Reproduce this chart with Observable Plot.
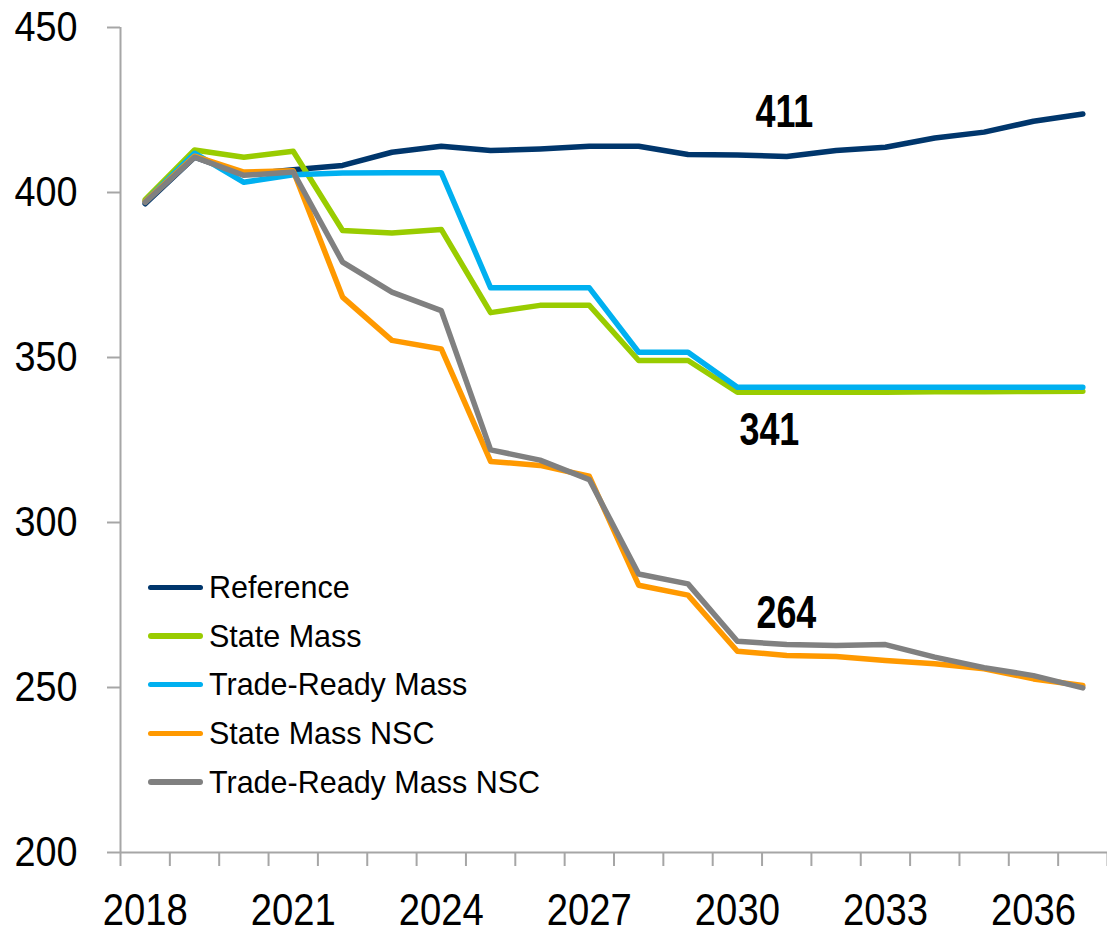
<!DOCTYPE html>
<html>
<head>
<meta charset="utf-8">
<script src="https://cdn.jsdelivr.net/npm/d3@7"></script>
<script src="https://cdn.jsdelivr.net/npm/@observablehq/plot@0.6"></script>
<style>
  html, body { margin: 0; padding: 0; background: #fff; }
  #wrap { position: relative; width: 1107px; height: 934px; }
  #legend { position: absolute; left: 148px; top: 563px; font-family: "Liberation Sans", Arial, sans-serif; font-size: 30.5px; color: #000; }
  .row { display: flex; align-items: center; height: 48.7px; }
  .sw { width: 55px; height: 5.5px; border-radius: 3px; margin-right: 6px; }
</style>
</head>
<body>
<div id="wrap"><div id="legend"></div></div>
<script>
const years = [2018, 2019, 2020, 2021, 2022, 2023, 2024, 2025, 2026, 2027, 2028, 2029, 2030, 2031, 2032, 2033, 2034, 2035, 2036, 2037];
const seriesNames = ["Reference", "State Mass", "Trade-Ready Mass", "State Mass NSC", "Trade-Ready Mass NSC"];
const seriesColors = ["#00366c", "#99cc00", "#00b0f0", "#ff9900", "#808080"];

const reference        = [396.6, 410.7, 405.5, 406.9, 408.2, 412.2, 414.0, 412.7, 413.2, 414.0, 414.0, 411.5, 411.4, 410.9, 412.7, 413.7, 416.5, 418.3, 421.6, 423.8];
const stateMass        = [397.8, 412.9, 410.7, 412.5, 388.5, 387.7, 388.8, 363.6, 365.8, 365.8, 349.1, 349.1, 339.5, 339.5, 339.5, 339.5, 339.6, 339.6, 339.7, 339.8];
const tradeReadyMass   = [397.3, 411.9, 403.1, 405.4, 405.9, 406.0, 406.0, 371.1, 371.1, 371.1, 351.6, 351.6, 341.0, 341.0, 341.0, 341.0, 341.0, 341.0, 341.0, 341.0];
const stateMassNSC     = [397.3, 411.0, 406.2, 406.6, 368.3, 355.2, 352.6, 318.5, 317.3, 314.0, 281.0, 278.0, 261.0, 259.7, 259.4, 258.2, 257.2, 255.7, 252.6, 250.6];
const tradeReadyNSC    = [397.0, 410.7, 405.2, 406.2, 378.9, 369.8, 364.2, 322.0, 318.9, 313.0, 284.4, 281.4, 264.0, 263.0, 262.7, 263.0, 259.2, 256.0, 253.6, 249.9];

const yTicks = [200, 250, 300, 350, 400, 450];
const xLabelYears = [2018, 2021, 2024, 2027, 2030, 2033, 2036];

const annoText   = ["411", "341", "264"];
const annoSeries = ["Reference", "State Mass", "Trade-Ready Mass NSC"];
const annoYear   = [2030, 2030, 2030];

const allSeries = [reference, stateMass, tradeReadyMass, stateMassNSC, tradeReadyNSC];
const data = [];
seriesNames.forEach((name, i) => {
  years.forEach((yr, j) => data.push({series: name, year: yr, value: allSeries[i][j]}));
});
const annos = annoText.map((t, i) => {
  const si = seriesNames.indexOf(annoSeries[i]);
  return {text: t, year: annoYear[i], value: allSeries[si][years.indexOf(annoYear[i])]};
});
const annoDx = [47, 32, 49];
const annoDy = [-43, 38, -28];

const halfTicks = [years[0] - 0.5, ...years.map(y => y + 0.5)];
const axisGray = "#a6a6a6";
const sans = '"Liberation Sans", Arial, sans-serif';

const chart = Plot.plot({
  width: 1107,
  height: 934,
  marginLeft: 120,
  marginRight: 0,
  marginTop: 27,
  marginBottom: 82,
  style: {fontFamily: sans, background: "#fff"},
  x: {domain: [years[0] - 0.5, years[years.length - 1] + 0.5]},
  y: {domain: [yTicks[0], yTicks[yTicks.length - 1]]},
  color: {domain: seriesNames, range: seriesColors},
  marks: [
    Plot.axisY({ticks: yTicks, tickSize: 13, tickPadding: 30, stroke: axisGray, strokeWidth: 2, fill: "#000", fontSize: 42, fontFamily: sans, label: null}),
    Plot.axisX({ticks: halfTicks, tickSize: 14, tickFormat: () => "", stroke: axisGray, strokeWidth: 2, label: null}),
    Plot.axisX({ticks: xLabelYears, tickSize: 0, tickPadding: 41, tickFormat: d => String(d), fill: "#000", fontSize: 45, fontFamily: sans, label: null}),
    Plot.ruleX([years[0] - 0.5], {stroke: axisGray, strokeWidth: 2}),
    Plot.ruleY([yTicks[0]], {stroke: axisGray, strokeWidth: 2}),
    ...seriesNames.map(name =>
      Plot.line(data.filter(d => d.series === name), {x: "year", y: "value", stroke: "series", strokeWidth: 5.5, strokeLinejoin: "round", strokeLinecap: "round"})
    ),
    ...annos.map((a, i) =>
      Plot.text([a], {x: "year", y: "value", text: "text", dx: annoDx[i], dy: annoDy[i], fontSize: 46, fontWeight: "bold", fontFamily: sans, fill: "#000"})
    )
  ]
});

// horizontal condensing of text, to match the narrow type of the original
function squeeze(selector, sx) {
  chart.querySelectorAll(selector).forEach(t => {
    const tr = t.getAttribute("transform") || "";
    t.setAttribute("transform", tr + ` scale(${sx},1)`);
  });
}
squeeze('g[aria-label="x-axis tick label"] text', 0.85);
squeeze('g[aria-label="y-axis tick label"] text', 0.9);
squeeze('g[aria-label="text"] text', 0.78);

document.getElementById("wrap").prepend(chart);

const legend = document.getElementById("legend");
seriesNames.forEach((name, i) => {
  const row = document.createElement("div");
  row.className = "row";
  const sw = document.createElement("div");
  sw.className = "sw";
  sw.style.background = seriesColors[i];
  const lab = document.createElement("span");
  lab.textContent = name;
  row.appendChild(sw);
  row.appendChild(lab);
  legend.appendChild(row);
});
</script>
</body>
</html>
